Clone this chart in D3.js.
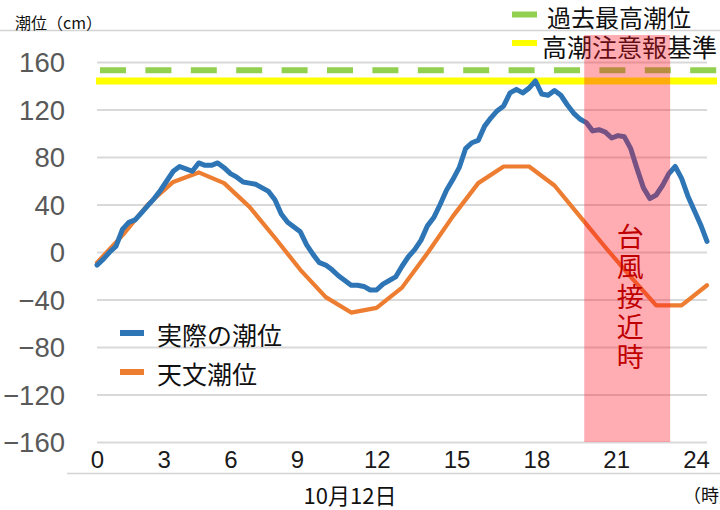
<!DOCTYPE html>
<html lang="ja">
<head>
<meta charset="utf-8">
<script src="https://cdn.jsdelivr.net/npm/d3@7"></script>
<style>
  html, body { margin: 0; padding: 0; background: #fff; }
  svg { display: block; }
  .jp { font-family: "Noto Sans CJK JP", "Noto Sans", sans-serif; }
  .num { font-family: "Liberation Sans", Arial, sans-serif; }
</style>
</head>
<body>
<svg id="chart" width="720" height="510"></svg>
<script>
// Hourly astronomical tide (cm), 0時 .. 24時
const astroHours = d3.range(0, 25);
const astroTide = [-9, 14, 40, 59, 67, 58, 38, 12, -15, -38, -51, -47, -30, -1,
                   30, 58, 72, 72, 56, 30, 4, -21, -45, -45, -28];

// Observed tide (cm), every 15 minutes from 0時 to 24時
const observedStepHours = 0.25;
const observedTide = [
  -11, -6, 0, 5, 19, 25, 27, 33, 39, 45,
  52, 60, 68, 72, 70, 68, 75, 73, 73, 75,
  71, 66, 63, 59, 58, 57, 54, 51, 44, 32,
  25, 21, 17, 6, -2, -9, -11, -15, -20, -24,
  -28, -28, -29, -32, -32, -27, -24, -21, -12, -4,
  2, 10, 22, 29, 40, 52, 61, 71, 87, 92,
  94, 106, 113, 119, 123, 134, 137, 134, 138, 144,
  133, 132, 136, 132, 124, 117, 112, 109, 102, 103,
  101, 96, 98, 97, 87, 70, 54, 45, 48, 56,
  66, 72, 62, 47, 35, 23, 9
];

// Reference levels (cm)
const recordHigh = 153;     // 過去最高潮位
const warningLevel = 144;   // 高潮注意報基準

// Typhoon approach window (hours)
const typhoonWindow = [19.17, 22.55];
const typhoonLabel = "台風接近時";

// Axis ticks
const yTicks = d3.range(-160, 161, 40);
const xTicks = d3.range(0, 25, 3);

const topLegend = [
  { label: "過去最高潮位", color: "#92d050" },
  { label: "高潮注意報基準", color: "#ffff00" }
];
const seriesLegend = [
  { label: "実際の潮位", color: "#2e75b6" },
  { label: "天文潮位", color: "#ed7d31" }
];

const svg = d3.select("#chart");

const x = d3.scaleLinear().domain([0, 24]).range([97, 707]);
const y = d3.scaleLinear().domain([-160, 160]).range([442, 62]);
// hour labels sit on their own (slightly uneven) spacing
const xLabel = d3.scaleLinear().domain([0, 9, 24]).range([97, 297, 696]);

// separator rules above and below the plot
svg.append("line").attr("x1", 0).attr("x2", 720).attr("y1", 30.5).attr("y2", 30.5)
  .attr("stroke", "#d4d4d4").attr("stroke-width", 1.5);
svg.append("line").attr("x1", 67).attr("x2", 720).attr("y1", 473.5).attr("y2", 473.5)
  .attr("stroke", "#d4d4d4").attr("stroke-width", 1.5);

// y axis with gridlines
const yAxis = svg.append("g").attr("transform", `translate(${x(0)},0)`)
  .call(d3.axisLeft(y).tickValues(yTicks).tickSize(-(x(24) - x(0))).tickPadding(32));
yAxis.select(".domain").remove();
yAxis.selectAll(".tick line").attr("stroke", "#d9d9d9").attr("stroke-width", 2);
yAxis.selectAll(".tick text").attr("class", "num").attr("font-size", 27.5)
  .attr("fill", "#595959").attr("dy", "0.36em");

// x axis labels
const xAxis = svg.append("g").attr("transform", `translate(0,${y(-160)})`)
  .call(d3.axisBottom(xLabel).tickValues(xTicks).tickSize(0).tickPadding(9));
xAxis.select(".domain").remove();
xAxis.selectAll(".tick text").attr("class", "num").attr("font-size", 24).attr("fill", "#1a1a1a");

// reference levels
svg.append("line").attr("x1", x(0) - 1).attr("x2", 717)
  .attr("y1", y(warningLevel)).attr("y2", y(warningLevel))
  .attr("stroke", "#ffff00").attr("stroke-width", 7);
svg.append("line").attr("x1", x(0) + 3).attr("x2", 717)
  .attr("y1", y(recordHigh)).attr("y2", y(recordHigh))
  .attr("stroke", "#92d050").attr("stroke-width", 6).attr("stroke-dasharray", "26,19.4");

// tide lines
const astroLine = d3.line().x((d, i) => x(astroHours[i])).y(d => y(d));
svg.append("path").datum(astroTide).attr("d", astroLine)
  .attr("fill", "none").attr("stroke", "#ed7d31").attr("stroke-width", 4.2)
  .attr("stroke-linejoin", "round").attr("stroke-linecap", "round");

const obsLine = d3.line().x((d, i) => x(i * observedStepHours)).y(d => y(d));
svg.append("path").datum(observedTide).attr("d", obsLine)
  .attr("fill", "none").attr("stroke", "#2e75b6").attr("stroke-width", 5)
  .attr("stroke-linejoin", "round").attr("stroke-linecap", "round");

// axis captions
svg.append("text").attr("class", "jp").attr("x", 15).attr("y", 22)
  .attr("dominant-baseline", "central").attr("font-size", 16).attr("fill", "#111")
  .text("潮位（cm）");
svg.append("text").attr("class", "jp").attr("x", 350).attr("y", 494)
  .attr("dominant-baseline", "central").attr("text-anchor", "middle")
  .attr("font-size", 22).attr("fill", "#111").text("10月12日");
svg.append("text").attr("class", "jp").attr("x", 683).attr("y", 494)
  .attr("dominant-baseline", "central").attr("font-size", 18).attr("fill", "#111")
  .text("（時）");

// top legend
const tl = svg.append("g").selectAll("g").data(topLegend).join("g")
  .attr("transform", (d, i) => `translate(512,${i === 0 ? 14.5 : 43})`);
tl.append("line").attr("x1", 0).attr("x2", 25)
  .attr("stroke", d => d.color).attr("stroke-width", 6);
tl.append("text").attr("class", "jp").attr("x", (d, i) => i === 0 ? 35 : 30)
  .attr("y", (d, i) => i === 0 ? 1.5 : 3)
  .attr("dominant-baseline", "central").attr("font-size", (d, i) => i === 0 ? 24 : 25)
  .attr("fill", "#111").text(d => d.label);

// series legend
const sl = svg.append("g").selectAll("g").data(seriesLegend).join("g")
  .attr("transform", (d, i) => `translate(120,${333 + i * 39})`);
sl.append("line").attr("x1", 0).attr("x2", 24)
  .attr("stroke", d => d.color).attr("stroke-width", 6);
sl.append("text").attr("class", "jp").attr("x", 37).attr("y", 1)
  .attr("dominant-baseline", "central").attr("font-size", 25)
  .attr("fill", "#111").text(d => d.label);

// typhoon approach band
svg.append("rect")
  .attr("x", x(typhoonWindow[0])).attr("width", x(typhoonWindow[1]) - x(typhoonWindow[0]))
  .attr("y", 35).attr("height", y(-160) - 35)
  .attr("fill", "#ff1020").attr("fill-opacity", 0.34);

// vertical caption inside the band
const bandMid = (x(typhoonWindow[0]) + x(typhoonWindow[1])) / 2 + 3;
svg.append("text").attr("class", "jp")
  .attr("x", bandMid).attr("y", 223)
  .style("writing-mode", "vertical-rl")
  .attr("letter-spacing", 3)
  .attr("font-size", 27).attr("fill", "#c00000").text(typhoonLabel);
</script>
</body>
</html>
